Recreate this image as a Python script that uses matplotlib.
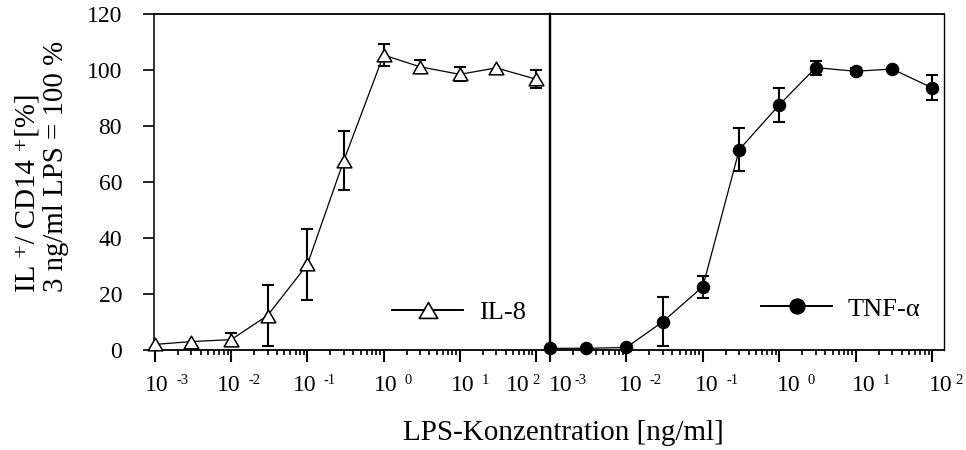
import matplotlib
matplotlib.use("Agg")
import matplotlib.pyplot as plt
import numpy as np
from matplotlib.path import Path
from matplotlib.lines import Line2D

# LPS concentrations (ng/ml)
conc = [0.001, 0.003, 0.01, 0.03, 0.1, 0.3, 1, 3, 10, 30, 100]

# IL-8 positive cells, normalised to 3 ng/ml LPS = 100 %
il8_mean = [2.0, 3.0, 3.7, 12.3, 30.5, 67.5, 105.2, 101.0, 98.3, 100.6, 96.6]
il8_sd = [0.0, 0.0, 2.4, 11.0, 12.8, 10.6, 3.9, 2.3, 2.5, 0.0, 3.3]

# TNF-alpha positive cells, normalised to 3 ng/ml LPS = 100 %
tnf_mean = [0.6, 0.6, 0.9, 10.1, 22.6, 71.5, 87.4, 100.7, 99.4, 100.2, 93.5]
tnf_sd = [0.0, 0.0, 0.0, 8.7, 3.9, 7.8, 6.2, 2.5, 1.0, 0.0, 4.4]

y_ticks = [0, 20, 40, 60, 80, 100, 120]
x_exponents = [-3, -2, -1, 0, 1, 2]
series_labels = ["IL-8", "TNF-\u03b1"]
x_title = "LPS-Konzentration [ng/ml]"
y_title = "IL \u207a/ CD14 \u207a[%]\n3 ng/ml LPS = 100 %"

plt.rcParams["font.family"] = ["Liberation Serif", "DejaVu Serif"]

W, H = 966, 450
fig = plt.figure(figsize=(W / 100, H / 100), dpi=100)

y0, y1 = 350, 13.5
ax1 = fig.add_axes([154 / W, 1 - y0 / H, 396 / W, (y0 - y1) / H])
ax2 = fig.add_axes([550 / W, 1 - y0 / H, 394.3 / W, (y0 - y1) / H])

# open triangle, slightly wider than tall
tri = Path([(-1, -0.86), (1, -0.86), (0, 0.86), (-1, -0.86)],
           [Path.MOVETO, Path.LINETO, Path.LINETO, Path.CLOSEPOLY])


def draw_series(ax, mean, sd, marker, mfc, ms):
    x = np.array(conc)
    m = np.array(mean)
    s = np.array(sd)
    has = s > 0
    ax.errorbar(x[has], m[has], yerr=s[has], fmt="none", ecolor="black",
                elinewidth=1.5, capsize=4.5, capthick=1.5, zorder=2,
                clip_on=False)
    ax.plot(x, m, color="black", lw=0.9, marker=marker, ms=ms, mfc=mfc,
            mec="black", mew=1.1, zorder=3, clip_on=False)


draw_series(ax1, il8_mean, il8_sd, tri, "white", 10.6)
draw_series(ax2, tnf_mean, tnf_sd, "o", "black", 8.6)

ax1.set_xlim(10 ** -3.013, 10 ** 2.184)
ax2.set_xlim(10 ** -3.0, 10 ** 2.16)

for ax, lw_l, lw_r in ((ax1, 1.1, 1.6), (ax2, 1.6, 1.0)):
    ax.set_xscale("log")
    ax.set_ylim(0, 120)
    ax.set_xticks([10.0 ** e for e in x_exponents])
    ax.xaxis.set_minor_locator(matplotlib.ticker.LogLocator(base=10, subs=np.arange(2, 10), numticks=20))
    ax.tick_params(axis="x", which="major", direction="out", length=8.6, width=1.5, labelbottom=False)
    ax.tick_params(axis="x", which="minor", direction="out", length=3.3, width=1.2)
    ax.spines["left"].set_linewidth(lw_l)
    ax.spines["right"].set_linewidth(lw_r)
    ax.spines["top"].set_linewidth(1.3)
    ax.spines["bottom"].set_linewidth(1.3)
    ax.set_facecolor("none")

ax1.set_yticks(y_ticks)
ax1.set_yticklabels([str(v) for v in y_ticks])
ax1.tick_params(axis="y", direction="out", length=8, width=1.2, pad=15, labelsize=17)
ax2.tick_params(axis="y", left=False, labelleft=False)

# decade labels "10" with a small raised exponent
shifts = {ax1: [2, -2, -3, 2, 2.5, -18], ax2: [10.5, 4, 4, 9, 8, 9]}
gaps = {ax1: [8, 8, 8, 8, 8, 3.5], ax2: [3, 8, 8, 8, 8, 3]}
px = 72 / 100
for ax in (ax1, ax2):
    for e, dx, g in zip(x_exponents, shifts[ax], gaps[ax]):
        xv = 10.0 ** e
        ax.annotate("10", xy=(xv, 0), xycoords=("data", "axes fraction"),
                    xytext=(dx * px, -41 * px), textcoords="offset points",
                    ha="center", va="baseline", fontsize=17, annotation_clip=False)
        ax.annotate(str(e), xy=(xv, 0), xycoords=("data", "axes fraction"),
                    xytext=((dx + 11.2 + g) * px, -33.5 * px), textcoords="offset points",
                    ha="left", va="baseline", fontsize=10.5, annotation_clip=False)

# legends
h1 = Line2D([], [], color="black", lw=1.4, marker=tri, ms=10.6, mfc="white", mec="black", mew=1.2)
h2 = Line2D([], [], color="black", lw=1.4, marker="o", ms=8.6, mfc="black", mec="black")
common = dict(frameon=False, fontsize=19, handlelength=2.7, handletextpad=0.6,
              borderpad=0, borderaxespad=0, markerscale=1.25, loc="center left")
ax1.legend([h1], [series_labels[0]], bbox_to_anchor=(0.601, 0.111), **common)
ax2.legend([h2], [series_labels[1]], bbox_to_anchor=(0.535, 0.122), **common)

fig.text(563 / W, (H - 440) / H, x_title, ha="center", va="baseline", fontsize=21)
fig.text(42 / W, (H - 292) / H, y_title, rotation=90, ha="center", va="bottom",
         multialignment="left", fontsize=20.8, linespacing=1.1)

fig.savefig("out.png", dpi=100)
